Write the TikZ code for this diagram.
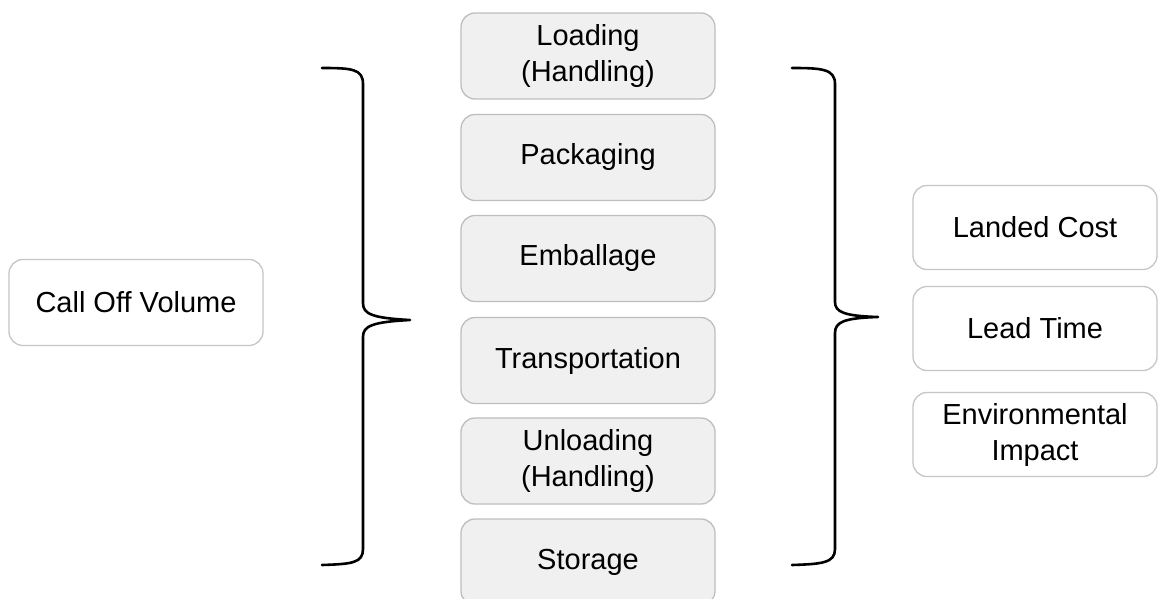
\documentclass[tikz,border=0pt]{standalone}
\usepackage{fontspec}
\setmainfont{Liberation Sans}
\definecolor{boxfill}{HTML}{F0F0F0}
\definecolor{boxline}{HTML}{BEBEBE}
\definecolor{wline}{HTML}{C6C6C6}
\begin{document}
\begin{tikzpicture}[x=1pt,y=-1pt,
  base/.style={rounded corners=14pt, line width=1.3pt, align=center, inner sep=0pt,
    font=\fontsize{29}{36}\selectfont, text=black},
  mbox/.style={base, draw=boxline, fill=boxfill, minimum width=254pt, minimum height=86pt},
  wbox/.style={base, draw=wline, fill=white, minimum width=254pt, minimum height=86pt},
  rbox/.style={base, draw=wline, fill=white, minimum width=244pt, minimum height=84pt},
  brace/.style={draw=black, line width=2.6pt, line cap=round, line join=round}]
\useasboundingbox (0,0) rectangle (1158,599);
\clip (0,0) rectangle (1158,599);
\fill[white] (0,0) rectangle (1158,599);

\node[wbox] (call) at (136,302.5) {Call Off Volume};

\node[mbox] (load) at (588,56) {Loading\\(Handling)};
\node[mbox] (pack) at (588,157.5) {Packaging};
\node[mbox] (emb) at (588,258.5) {Emballage};
\node[mbox] (trans) at (588,360.5) {Transportation};
\node[mbox] (unload) at (588,461) {Unloading\\(Handling)};
\node[mbox] (stor) at (588,562) {Storage};

\node[rbox] (cost) at (1035,227.5) {Landed Cost};
\node[rbox] (lead) at (1035,328.5) {Lead Time};
\node[rbox] (env) at (1035,434.5) {Environmental\\Impact};

% left brace
\draw[brace] (322,68) .. controls (352,68) and (363,69) .. (363,84)
  -- (363,303) .. controls (363,314) and (372,318) .. (410,320)
  .. controls (372,322) and (363,326) .. (363,337)
  -- (363,549) .. controls (363,563) and (352,564) .. (322,565);
% right brace
\draw[brace] (792,68) .. controls (822,68) and (835,69) .. (835,84)
  -- (835,302) .. controls (835,312) and (844,316) .. (878,317)
  .. controls (844,318) and (835,322) .. (835,333)
  -- (835,549) .. controls (835,563) and (822,564) .. (792,565);
\end{tikzpicture}
\end{document}
